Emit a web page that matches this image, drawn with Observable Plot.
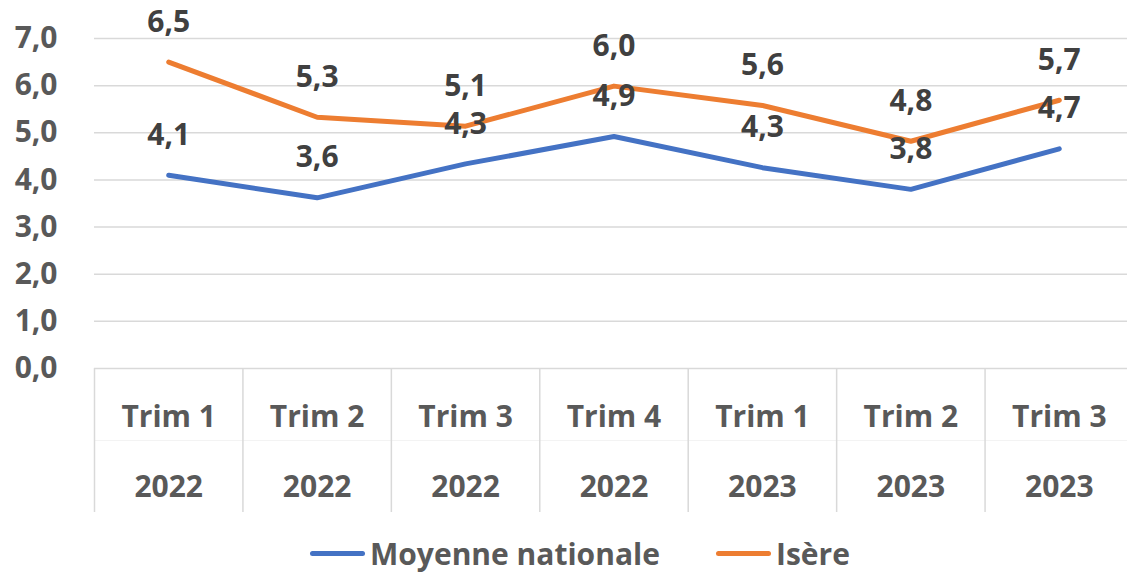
<!DOCTYPE html>
<html><head><meta charset="utf-8">
<script src="https://cdn.jsdelivr.net/npm/d3@7"></script>
<script src="https://cdn.jsdelivr.net/npm/@observablehq/plot@0.6"></script>
<style>
body{margin:0;background:#fff;font-family:"Open Sans",Lato,sans-serif;overflow:hidden}
#chart svg{overflow:visible;display:block}
#legend{position:relative;height:48px;width:1127px}
.item{position:absolute;top:0;height:56px;display:flex;align-items:center;font-weight:700;font-size:30px;color:#595959}
.sw{display:inline-block;width:55px;height:5px;border-radius:3px;margin-right:5px}
</style></head>
<body><div id="chart"></div><div id="legend"></div>
<script>
const quarters = ["Trim 1","Trim 2","Trim 3","Trim 4","Trim 1","Trim 2","Trim 3"];
const years = ["2022","2022","2022","2022","2023","2023","2023"];
const nationale = [4.10,3.62,4.34,4.92,4.26,3.80,4.66];
const isere = [6.50,5.33,5.14,5.99,5.58,4.82,5.69];
const seriesNames = ["Moyenne nationale","Isère"];
const colors = ["#4472C4","#ED7D31"];
const yTicks = [0,1,2,3,4,5,6,7];

const rows = [];
[nationale, isere].forEach((vals, s) => vals.forEach((v, i) => rows.push({i, v, s: seriesNames[s]})));
const fmt = v => v.toFixed(1).replace(".", ",");
const idx = quarters.map((_, i) => i);
const edges = d3.range(quarters.length + 1).map(i => i - 0.5);
const pxPerUnit = (368 - 38) / 7;
const sepBottom = -(512 - 368) / pxPerUnit;
const midLine = -(440 - 368) / pxPerUnit;
const FS = 30;

const chart = Plot.plot({
  width: 1127, height: 525,
  marginLeft: 94, marginRight: -6, marginTop: 38, marginBottom: 157,
  style: {fontFamily: "'Open Sans', Lato, sans-serif", overflow: "visible", background: "#fff"},
  x: {domain: [-0.5, quarters.length - 0.5], axis: null},
  y: {domain: [0, 7], axis: null},
  color: {domain: seriesNames, range: colors},
  marks: [
    Plot.ruleY(yTicks, {y: d => d, x1: -0.5, x2: quarters.length - 0.5, stroke: "#d9d9d9", strokeWidth: 1.5}),
    Plot.ruleY([midLine], {y: d => d, x1: -0.5, x2: quarters.length - 0.5, stroke: "#f3f3f3", strokeWidth: 1}),
    Plot.ruleX(edges, {x: d => d, y1: 0, y2: sepBottom, stroke: "#d9d9d9", strokeWidth: 1.5}),
    Plot.text(yTicks, {y: d => d, frameAnchor: "left", dx: -37, textAnchor: "end", text: fmt, fontSize: FS, fontWeight: 700, fill: "#595959"}),
    Plot.text(idx, {x: d => d, frameAnchor: "bottom", dy: 49, lineAnchor: "middle", text: i => quarters[i], fontSize: FS, fontWeight: 700, fill: "#595959"}),
    Plot.text(idx, {x: d => d, frameAnchor: "bottom", dy: 119, lineAnchor: "middle", text: i => years[i], fontSize: FS, fontWeight: 700, fill: "#595959"}),
    Plot.line(rows, {x: "i", y: "v", z: "s", stroke: "s", strokeWidth: 5, strokeLinecap: "round", strokeLinejoin: "round"}),
    Plot.text(rows, {x: "i", y: "v", dy: -40, text: d => fmt(d.v), fontSize: FS, fontWeight: 700, fill: "#404040"})
  ]
});
document.getElementById("chart").appendChild(chart);

const legend = document.getElementById("legend");
const lefts = [310, 716];
seriesNames.forEach((n, k) => {
  const it = document.createElement("div");
  it.className = "item";
  it.style.left = lefts[k] + "px";
  it.innerHTML = `<span class="sw" style="background:${colors[k]}"></span><span>${n}</span>`;
  legend.appendChild(it);
});
</script>
</body></html>
